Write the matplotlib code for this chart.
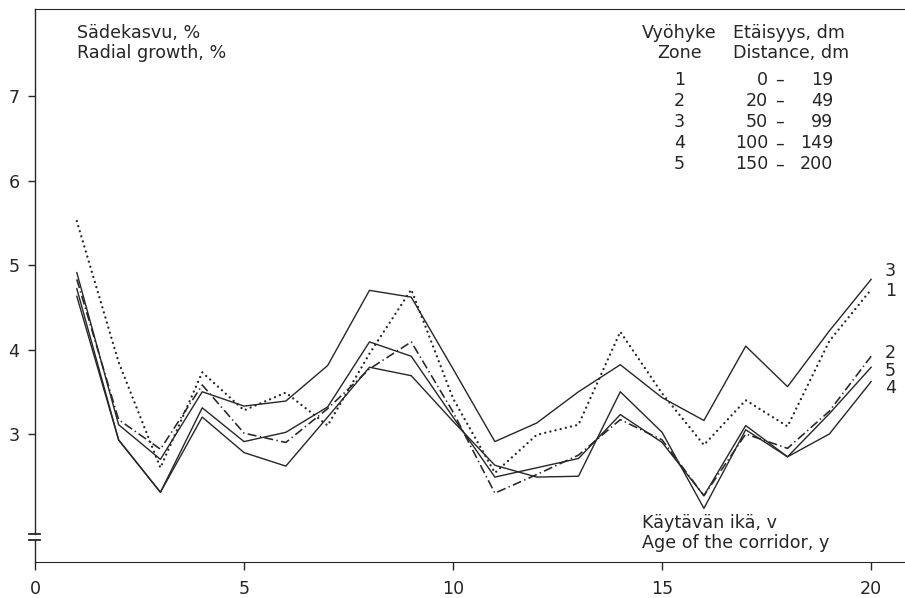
import numpy as np
import matplotlib
matplotlib.use("Agg")
import matplotlib.pyplot as plt
import matplotlib.transforms as mtransforms

# corridor age, years
age = np.arange(1, 21)

# radial growth (%) by zone
zone1 = [5.52, 3.85, 2.60, 3.73, 3.28, 3.49, 3.10, 3.95, 4.71, 3.42,
         2.54, 2.99, 3.11, 4.21, 3.48, 2.87, 3.40, 3.09, 4.10, 4.71]
zone2 = [4.83, 3.17, 2.82, 3.58, 3.01, 2.90, 3.30, 3.77, 4.09, 3.26,
         2.30, 2.52, 2.75, 3.17, 2.93, 2.27, 3.00, 2.83, 3.27, 3.92]
zone3 = [4.91, 3.11, 2.70, 3.50, 3.33, 3.39, 3.81, 4.70, 4.62, 3.77,
         2.91, 3.13, 3.50, 3.82, 3.43, 3.16, 4.04, 3.56, 4.22, 4.83]
zone4 = [4.63, 2.93, 2.31, 3.20, 2.78, 2.62, 3.20, 3.79, 3.69, 3.15,
         2.63, 2.49, 2.50, 3.50, 3.02, 2.12, 3.05, 2.73, 3.00, 3.62]
zone5 = [4.72, 2.93, 2.31, 3.31, 2.91, 3.02, 3.32, 4.09, 3.92, 3.20,
         2.49, 2.60, 2.71, 3.23, 2.90, 2.27, 3.10, 2.73, 3.24, 3.79]

zone_ids = ["1", "2", "3", "4", "5"]
dist_lo = ["0", "20", "50", "100", "150"]
dist_hi = ["19", "49", "99", "149", "200"]

x_ticks = [0, 5, 10, 15, 20]
y_ticks = [3, 4, 5, 6, 7]

plt.rcParams["font.family"] = ["DejaVu Sans"]
plt.rcParams["lines.scale_dashes"] = False
ink = "#262626"
fs = 12.6

fig = plt.figure(figsize=(9.05, 5.98), dpi=100)
ax = fig.add_axes([35 / 905, 1 - 562 / 598, 870 / 905, 553 / 598])
ax.set_xlim(0, 20.81)
ax.set_ylim(1.485, 8.03)

ax.plot(age, zone3, color=ink, linewidth=1.0)
ax.plot(age, zone4, color=ink, linewidth=1.0)
ax.plot(age, zone5, color=ink, linewidth=1.0)
# dotted: tiny dashes with round caps give separate dots
ax.plot(age, zone1, color=ink, linewidth=1.7, linestyle=(0, (0.01, 3.8)),
        dash_capstyle="round")
ax.plot(age, zone2, color=ink, linewidth=1.15, linestyle=(0, (6.5, 2.4, 1.0, 2.4)))

# spines and the broken y axis
ax.spines["right"].set_visible(False)
ax.spines["left"].set_visible(False)
ax.spines["top"].set_color(ink)
ax.spines["bottom"].set_color(ink)
brk_hi, brk_lo = 1.82, 1.74
trans = mtransforms.blended_transform_factory(ax.transAxes, ax.transData)
ax.plot([0, 0], [brk_hi, 8.03], color=ink, lw=1.0, transform=trans, clip_on=False)
ax.plot([0, 0], [1.485, brk_lo], color=ink, lw=1.0, transform=trans, clip_on=False)
for b in (brk_hi, brk_lo):
    ax.plot([-0.007, 0.006], [b, b], color=ink, lw=1.3, transform=trans, clip_on=False)

ax.set_xticks(x_ticks)
ax.set_yticks(y_ticks)
ax.tick_params(axis="x", direction="out", length=6, width=1.0, pad=7,
               labelsize=fs, colors=ink)
ax.tick_params(axis="y", direction="out", length=5, width=1.0, pad=6,
               labelsize=fs, colors=ink)

# axis titles
ax.text(1.0, 7.75, "Sädekasvu, %", fontsize=fs, color=ink, va="center")
ax.text(1.0, 7.51, "Radial growth, %", fontsize=fs, color=ink, va="center")
ax.text(14.52, 1.95, "Käytävän ikä, v", fontsize=fs, color=ink, va="center")
ax.text(14.52, 1.71, "Age of the corridor, y", fontsize=fs, color=ink, va="center")

# zone legend
ax.text(15.41, 7.75, "Vyöhyke", fontsize=fs, color=ink, va="center", ha="center")
ax.text(15.41, 7.51, "Zone", fontsize=fs, color=ink, va="center", ha="center")
ax.text(16.70, 7.75, "Etäisyys, dm", fontsize=fs, color=ink, va="center")
ax.text(16.70, 7.51, "Distance, dm", fontsize=fs, color=ink, va="center")
for i in range(len(zone_ids)):
    yy = 7.19 - 0.25 * i
    ax.text(15.41, yy, zone_ids[i], fontsize=fs, color=ink, va="center", ha="center")
    ax.text(17.54, yy, dist_lo[i], fontsize=fs, color=ink, va="center", ha="right")
    ax.text(17.80, yy, "–", fontsize=fs, color=ink, va="center", ha="center")
    ax.text(19.09, yy, dist_hi[i], fontsize=fs, color=ink, va="center", ha="right")

# line end labels
end_labels = {"3": 4.93, "1": 4.69, "2": 3.96, "5": 3.75, "4": 3.54}
for lab, yy in end_labels.items():
    ax.text(20.33, yy, lab, fontsize=fs, color=ink, va="center")

plt.savefig("out.png", dpi=100)
plt.close()
